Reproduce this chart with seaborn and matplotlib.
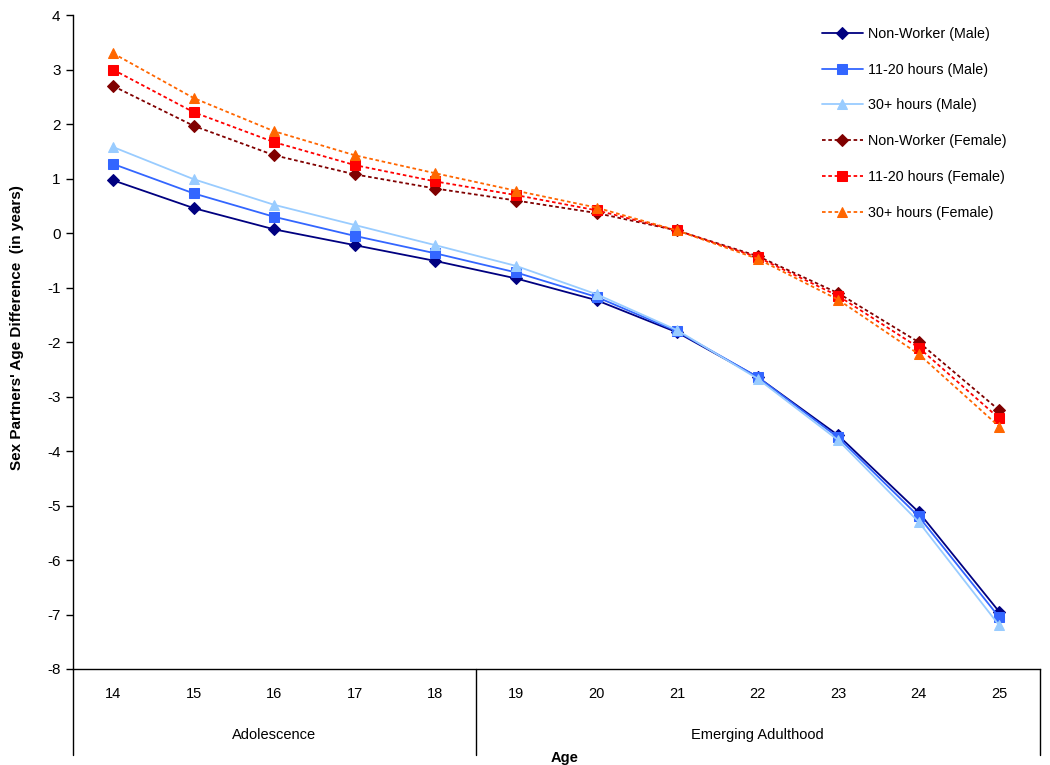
import matplotlib
matplotlib.use("Agg")
import matplotlib.pyplot as plt
import matplotlib.transforms as mtransforms
import seaborn as sns
import pandas as pd

sns.set_theme(style="white")
plt.rcParams['font.family'] = ['Liberation Sans', 'DejaVu Sans']
plt.rcParams['axes.unicode_minus'] = False
plt.rcParams['text.color'] = 'black'
plt.rcParams['xtick.color'] = 'black'
plt.rcParams['ytick.color'] = 'black'
plt.rcParams['axes.labelcolor'] = 'black'

ages = [14, 15, 16, 17, 18, 19, 20, 21, 22, 23, 24, 25]

male_nonworker = [0.97, 0.46, 0.07, -0.22, -0.51, -0.83, -1.23, -1.82, -2.64, -3.71, -5.12, -6.95]
male_11_20 = [1.27, 0.73, 0.30, -0.05, -0.37, -0.72, -1.17, -1.80, -2.64, -3.75, -5.20, -7.05]
male_30plus = [1.58, 0.99, 0.52, 0.15, -0.22, -0.60, -1.12, -1.78, -2.67, -3.80, -5.30, -7.20]
female_nonworker = [2.70, 1.97, 1.43, 1.08, 0.82, 0.60, 0.37, 0.05, -0.42, -1.10, -2.00, -3.25]
female_11_20 = [3.00, 2.22, 1.67, 1.25, 0.95, 0.70, 0.42, 0.05, -0.44, -1.15, -2.10, -3.40]
female_30plus = [3.30, 2.48, 1.87, 1.43, 1.10, 0.78, 0.47, 0.05, -0.47, -1.22, -2.22, -3.55]

series_names = ["Non-Worker (Male)", "11-20 hours (Male)", "30+ hours (Male)",
                "Non-Worker (Female)", "11-20 hours (Female)", "30+ hours (Female)"]
series_values = [male_nonworker, male_11_20, male_30plus,
                 female_nonworker, female_11_20, female_30plus]
colors = ["#000080", "#3366FF", "#99CCFF", "#800000", "#FF0000", "#FF6600"]
markers = ["D", "s", "^", "D", "s", "^"]
msizes = [6, 7.5, 7.5, 6, 7.5, 7.5]
styles = ["-", "-", "-", (0, (2, 1.5)), (0, (2, 1.5)), (0, (2, 1.5))]

groups = ["Adolescence", "Emerging Adulthood"]
group_centers = [16, 22]
group_split = 18.5

fig = plt.figure(figsize=(10.5, 7.65), dpi=100)
ax = fig.add_axes([0.0695, 0.1255, 0.9205, 0.8545])

for name, vals, c, m, ms, ls in zip(series_names, series_values, colors, markers, msizes, styles):
    df = pd.DataFrame({"age": ages, "val": vals})
    sns.lineplot(data=df, x="age", y="val", ax=ax, color=c, marker=m, markersize=ms,
                 markeredgecolor=c, linewidth=1.3, linestyle=ls, label=name)

ax.set_xlim(13.5, 25.5)
ax.set_ylim(-8, 4)
ax.set_yticks(range(-8, 5))
ax.set_xticks(ages)
ax.set_xticklabels([str(a) for a in ages])
ax.tick_params(axis='y', which='major', direction='out', length=5, width=1, colors='black',
               labelsize=11, pad=4, left=True)
ax.tick_params(axis='x', length=0, labelsize=10.5, pad=13, colors='black')
ax.set_xlabel("")
ax.set_ylabel("")
for s in ["top", "right"]:
    ax.spines[s].set_visible(False)
for s in ["left", "bottom"]:
    ax.spines[s].set_color("black")
    ax.spines[s].set_linewidth(1)

trans = mtransforms.blended_transform_factory(ax.transData, ax.transAxes)
for xv in [13.5, group_split, 25.5]:
    ax.plot([xv, xv], [0, -0.1315], transform=trans, color="black", lw=1, clip_on=False)
for g, cx in zip(groups, group_centers):
    ax.text(cx, -0.101, g, transform=trans, ha="center", va="center", fontsize=10.5)

fig.text(565 / 1050, 1 - 758 / 765, "Age", ha="center", va="center", fontsize=10.5, fontweight="bold")
fig.text(17 / 1050, 1 - 328 / 765, "Sex Partners' Age Difference  (in years)", rotation=90,
         ha="center", va="center", fontsize=11, fontweight="bold")

leg = ax.legend(loc="upper left", bbox_to_anchor=(822 / 1050, 1 - 27 / 765),
                bbox_transform=fig.transFigure, frameon=False, fontsize=10.3,
                handlelength=2.85, labelspacing=1.52, handletextpad=0.4,
                borderaxespad=0, borderpad=0)

fig.savefig("out.png", dpi=100)
